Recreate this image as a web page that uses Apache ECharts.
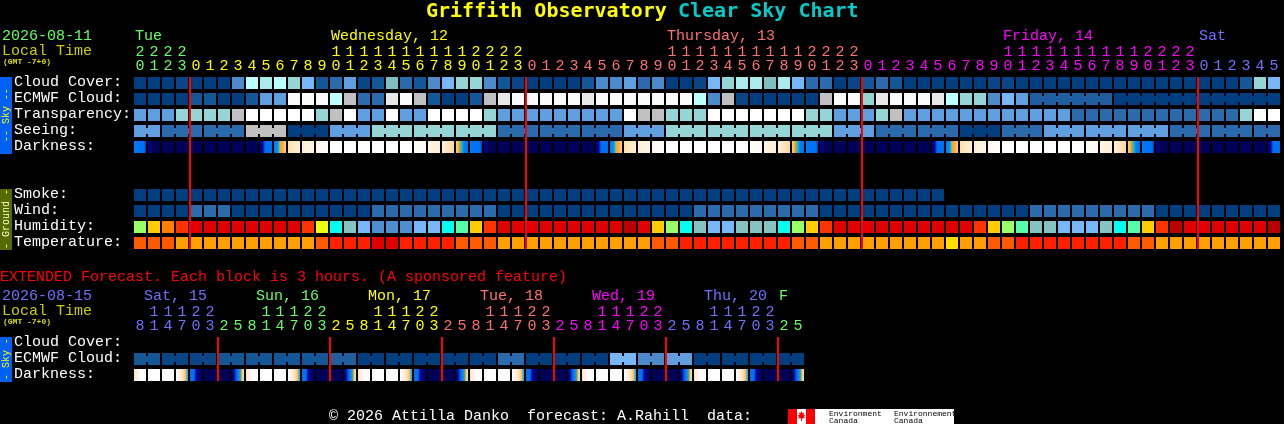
<!DOCTYPE html>
<html>
<head>
<meta charset="utf-8">
<style>html,body{margin:0;padding:0;background:#000;overflow:hidden}#c{width:1284px;height:424px}</style>
<script src="https://cdn.jsdelivr.net/npm/echarts@6/dist/echarts.min.js"></script>
</head>
<body>
<div id="c"></div>
<script>
// ---------- data ----------
const mainRows = ['Cloud Cover:','ECMWF Cloud:','Transparency:','Seeing:','Darkness:','','','Smoke:','Wind:','Humidity:','Temperature:'];
const extRows = ['Cloud Cover:','ECMWF Cloud:','Darkness:'];

const mainHours = [20,21,22,23,
 0,1,2,3,4,5,6,7,8,9,10,11,12,13,14,15,16,17,18,19,20,21,22,23,
 0,1,2,3,4,5,6,7,8,9,10,11,12,13,14,15,16,17,18,19,20,21,22,23,
 0,1,2,3,4,5,6,7,8,9,10,11,12,13,14,15,16,17,18,19,20,21,22,23,
 0,1,2,3,4,5];
const extHours = [8,11,14,17,20,23,2,5,8,11,14,17,20,23,2,5,8,11,14,17,20,23,2,5,
 8,11,14,17,20,23,2,5,8,11,14,17,20,23,2,5,8,11,14,17,20,23,2,5];

const mainDayNames = ['Tue','Wednesday, 12','Thursday, 13','Friday, 14','Sat'];
const mainDayNameCols = [0,14,38,62,76];
const mainDayStartCols = [0,4,28,52,76];
const extDayNames = [' Sat, 15',' Sun, 16',' Mon, 17',' Tue, 18',' Wed, 19',' Thu, 20','F'];
const extDayNameCols = [0,8,16,24,32,40,46];
const extDayStartCols = [0,6,14,22,30,38,46];

const midnightCols = [4,28,52,76];
const extMidnightCols = [6,14,22,30,38,46];

const cloudCover = [0,0,0,13,0,0,0,3,9,8,9,7,5,1,2,4,13,1,6,2,1,
 3,5,7,7,3,1,13,0,0,0,0,1,3,3,4,2,3,0,0,13,5,7,8,8,6,8,5,2,2,0,13,
 1,2,1,0,0,0,0,0,0,13,13,0,0,0,0,0,0,0,0,0,0,0,0,0,0,0,0,1,7,5];
const ecmwfCloud = [0,0,0,0,1,1,0,0,1,4,4,10,10,10,9,12,2,2,11,10,12,
 1,0,0,1,12,11,10,10,10,10,10,11,10,10,10,10,10,10,10,9,3,12,13,0,0,0,0,0,12,10,10,
 7,11,10,10,10,11,9,7,7,3,5,4,14,14,14,14,14,14,0,0,0,0,0,0,0,0,0,0,0,0];
const ecmwfRuns = [[64,69],[70,81]];
const transparency = [2,2,2,3,3,3,3,4,5,5,5,5,5,3,4,5,2,2,5,2,2,
 5,5,5,5,3,2,2,2,2,2,2,2,2,2,5,4,4,3,3,3,5,5,5,5,5,5,5,3,3,2,2,
 2,3,4,2,2,2,2,2,2,2,2,2,2,2,2,1,1,1,1,1,1,1,1,1,1,1,1,3,5,5];
const seeing = [2,2,1,1,1,1,1,1,4,4,4,0,0,0,2,2,2,3,3,3,3,3,3,3,3,3,1,1,1,1,1,1,1,1,1,2,2,2,3,3,3,3,3,3,3,3,3,3,3,3,2,2,2,1,1,1,1,1,1,0,0,0,1,1,1,2,2,2,2,2,2,2,2,2,1,1,1,1,1,1,1,1];
const seeingGroupSizes = [2,3,3,3,3,3,3,3,3,3,3,3,3,3,3,3,3,3,3,3,3,3,3,3,3,3,3,2];
const darkness = ['b','m','n','n','n','n','n','n','n','p','q','s1','s2','s3','w','w','w','w','w','w','e3','e2','e1','r',
 'b','m','n','n','n','n','n','n','n','p','q','s1','s2','s3','w','w','w','w','w','w','e3','e2','e1','r',
 'b','m','n','n','n','n','n','n','n','p','q','s1','s2','s3','w','w','w','w','w','w','e3','e2','e1','r',
 'b','m','n','n','n','n','n','n','n','p'];
const smoke = [0,0,0,0,0,0,0,0,0,0,0,0,0,0,0,0,0,0,0,0,0,0,0,0,0,0,0,0,0,0,0,0,0,0,0,0,0,0,0,0,0,0,0,0,0,0,0,0,0,0,0,0,0,0,0,0,0,0];
const wind = [0,0,0,0,1,1,1,0,0,0,0,0,0,0,0,0,0,1,1,1,1,1,1,1,1,1,0,0,0,0,0,0,0,0,0,0,0,0,0,0,1,1,1,1,1,1,1,1,1,0,0,0,0,0,0,0,0,0,0,0,0,0,0,0,1,1,1,1,1,1,1,1,1,0,0,0,0,0,0,0,0,0];
const humidity = [0,1,2,3,4,4,4,4,4,4,4,4,3,6,7,8,9,10,10,10,9,
 9,7,11,1,3,4,4,4,4,4,4,4,4,4,5,4,1,0,7,8,9,9,8,8,8,7,0,1,3,4,4,
 4,4,4,4,4,4,4,4,3,1,0,11,8,8,9,9,9,8,7,11,1,3,5,4,4,4,4,4,4,5];
const temperature = [0,0,0,1,1,1,1,1,1,1,1,1,1,0,2,2,2,3,3,2,2,
 2,2,0,0,0,1,1,1,1,1,1,1,1,1,1,1,0,0,2,2,2,2,2,2,2,2,0,0,1,1,1,
 1,1,1,1,1,1,4,1,1,0,0,2,2,2,2,2,2,2,2,0,0,1,1,1,1,1,1,1,1,1];

const extEcmwf = [1,1,13,13,13,13,1,1,1,1,1,1,1,1,14,14,0,0,0,0,0,0,0,0,0,0,2,2,0,0,0,0,0,0,5,5,3,3,4,4,0,0,0,0,0,0,0,0];
const extDarkness = ['h','w','w','k','l','n','n','o','h','w','w','k','l','n','n','o','h','w','w','k','l','n','n','o',
 'h','w','w','k','l','n','n','o','h','w','w','k','l','n','n','o','h','w','w','k','l','n','n','o'];

// ---------- styles ----------
const BLUE0 = '#003F7F';
const cloudColors = [BLUE0,'#135797','#2B6BAB','#4B8BCB','#5F9FDF','#77B7F7','#7FBFBF','#95D5D5','#ABEBEB','#BBFFFF','#FBFBFB','#E8E8E8','#C0C0C0','#0A4686','#1F5F9F'];
const transColors = [BLUE0,'#2B6BAB','#5F9FDF','#95D5D5','#C0C0C0','#FFFFFF'];
const windColors = [BLUE0,'#2B6BAB'];
const humidColors = ['#99FF66','#FFCC00','#FF8000','#FF3300','#E00000','#BB0000','#EEFF11','#00FFEE','#85C2C2','#77B7F7','#4F8FCF','#55FFAA'];
const tempColors = ['#FF5A00','#FFA000','#FF2000','#E00000','#FFDD00'];
const mainDayColors = ['#66FF66','#FFFF00','#FF7070','#FF00FF','#7070FF'];
const extDayColors = ['#7070FF','#66FF66','#FFFF00','#FF7070','#FF00FF','#7070FF','#66FF66'];
const darkStops = {
 n:[[0,'#000058'],[1,'#000058']],
 w:[[0,'#FFFFFF'],[1,'#FFFFFF']],
 b:[[0,'#0078F8'],[.8,'#0070F0'],[1,'#0040C0']],
 m:[[0,'#0000A0'],[.18,'#000078'],[.4,'#000058'],[1,'#000058']],
 p:[[0,'#000070'],[.2,'#0000A0'],[.34,'#0040D0'],[.42,'#0070F0'],[1,'#0070F0']],
 q:[[0,'#0078F0'],[.3,'#0090F0'],[.4,'#00C0F0'],[.5,'#FFA020'],[.75,'#FFB040'],[1,'#FFD090']],
 s1:[[0,'#FFDFB0'],[1,'#FFEFD8']],
 s2:[[0,'#FFEFD5'],[1,'#FFF6E8']],
 s3:[[0,'#FFF8F0'],[1,'#FFFDFA']],
 e3:[[0,'#FFFDFA'],[1,'#FFF8F0']],
 e2:[[0,'#FFF6E8'],[1,'#FFEFD5']],
 e1:[[0,'#FFEFD8'],[1,'#FFD9A8']],
 r:[[0,'#FFD090'],[.25,'#FFA020'],[.4,'#60B080'],[.5,'#00C0F0'],[.65,'#0080F0'],[1,'#0070F0']],
 h:[[0,'#FFE4C4'],[.55,'#FFFFFF'],[1,'#FFFFFF']],
 k:[[0,'#FFFFFF'],[.5,'#FFE8C8'],[.78,'#FFC070'],[.86,'#FFA030'],[.9,'#00C8F0'],[1,'#00C0F0']],
 l:[[0,'#0070F0'],[.35,'#0070F0'],[.5,'#0000A0'],[1,'#000058']],
 o:[[0,'#000060'],[.15,'#0000A0'],[.4,'#0070F0'],[.6,'#0090F0'],[.72,'#50A080'],[.85,'#FFC070'],[1,'#FFE0B0']]
};
const FONT = '"Liberation Mono","DejaVu Sans Mono",monospace';
const CELL = 12, PITCH = 14, JOIN = 6, RED = '#FF0000';

// ---------- helpers ----------
function fillOf(code){
  const s = darkStops[code];
  return new echarts.graphic.LinearGradient(0,0,1,0,s.map(p=>({offset:p[0],color:p[1]})));
}
function colorAt(cols, colors, i){ let d=0; cols.forEach((c,k)=>{ if(i>=c) d=k; }); return colors[d]; }
function runsFromSizes(sizes){ const r=[]; let c=0; sizes.forEach(s=>{ r.push([c,c+s-1]); c+=s; }); return r; }
function addRow(out,row,values,colorFn,runs){
  values.forEach((v,col)=>{
    let join=false;
    if(runs) join = runs.some(r=>col>=r[0] && col<r[1]);
    out.push({value:[col,row],fill:colorFn(v),join});
  });
}
const mainCells=[];
addRow(mainCells,0,cloudCover,v=>cloudColors[v]);
addRow(mainCells,1,ecmwfCloud,v=>cloudColors[v],ecmwfRuns);
addRow(mainCells,2,transparency,v=>transColors[v]);
addRow(mainCells,3,seeing,v=>transColors[v],runsFromSizes(seeingGroupSizes));
addRow(mainCells,4,darkness,fillOf);
addRow(mainCells,7,smoke,v=>windColors[v]);
addRow(mainCells,8,wind,v=>windColors[v]);
addRow(mainCells,9,humidity,v=>humidColors[v]);
addRow(mainCells,10,temperature,v=>tempColors[v]);
const extCells=[];
addRow(extCells,1,extEcmwf,v=>cloudColors[v],extHours.map((h,i)=>[i,i+1]).filter(r=>r[0]%2===0));
addRow(extCells,2,extDarkness,fillOf);

function cellSeries(x,y,cells){
  return {type:'custom',xAxisIndex:x,yAxisIndex:y,coordinateSystem:'cartesian2d',clip:false,silent:true,
    data:cells,encode:{x:0,y:1},
    renderItem(params,api){
      const c=cells[params.dataIndex];
      const p=api.coord([api.value(0),api.value(1)]);
      const kids=[{type:'rect',shape:{x:p[0]-CELL/2,y:p[1]-CELL/2,width:CELL,height:CELL},style:{fill:c.fill}}];
      if(c.join) kids.push({type:'rect',shape:{x:p[0]+CELL/2,y:p[1]-JOIN/2,width:PITCH-CELL,height:JOIN},style:{fill:c.fill}});
      return {type:'group',children:kids};
    }};
}
function redLines(x,y,cols,topRow,botRow){
  return {type:'custom',xAxisIndex:x,yAxisIndex:y,coordinateSystem:'cartesian2d',clip:false,silent:true,z:5,
    data:cols.map(c=>[c,topRow]),encode:{x:0,y:1},
    renderItem(params,api){
      const p=api.coord([api.value(0),topRow]);
      const b=api.coord([api.value(0),botRow]);
      return {type:'rect',shape:{x:p[0]-PITCH/2,y:p[1]-CELL/2,width:2,height:b[1]-p[1]+CELL},style:{fill:RED}};
    }};
}
function hourAxis(grid,hours,dayCols,dayColors,tens){
  return {type:'category',gridIndex:grid,position:'top',offset:tens?14:0,boundaryGap:true,
    data:hours.map((h,i)=>String(i)),
    axisLine:{show:false},axisTick:{show:false},splitLine:{show:false},
    axisLabel:{show:true,interval:0,margin:1,fontFamily:FONT,fontSize:15,hideOverlap:false,
      formatter:(v,i)=>{ const h=hours[i]; if(tens) return h>=10?String(Math.floor(h/10)):''; return String(h%10); },
      color:(v,i)=>colorAt(dayCols,dayColors,i===undefined?+v:i)}};
}
function rowAxis(grid,rows){
  return {type:'category',gridIndex:grid,inverse:true,data:rows,
    axisLine:{show:false},axisTick:{show:false},splitLine:{show:false},
    axisLabel:{show:true,interval:0,margin:119,align:'left',verticalAlign:'bottom',lineHeight:2,color:'#FFFFFF',fontFamily:FONT,fontSize:15}};
}
function txt(x,y,text,fill,size,extra){
  return Object.assign({type:'text',silent:true,x,y,style:{text,fill,fontFamily:FONT,fontSize:size,textAlign:'left',verticalAlign:'middle'}},extra||{});
}
function bandText(x,y,text,fill){
  return {type:'text',silent:true,x,y,rotation:Math.PI/2,style:{text,fill,fontFamily:FONT,fontSize:10,textAlign:'center',verticalAlign:'middle'}};
}
function rect(x,y,w,h,fill){ return {type:'rect',silent:true,z:0,shape:{x,y,width:w,height:h},style:{fill}}; }
function gmt(y){ return {type:'text',silent:true,x:3,y,style:{text:'(GMT -7+0)',fill:'#DDDD00',fontFamily:FONT,fontWeight:'bold',fontSize:8,textAlign:'left',verticalAlign:'middle'}}; }

const graphics=[
  {type:'text',silent:true,x:426,y:12,style:{text:'Griffith Observatory ',fill:'#FFFF00',fontFamily:'"DejaVu Sans Mono",monospace',fontWeight:'bold',fontSize:20,textAlign:'left',verticalAlign:'middle'}},
  {type:'text',silent:true,x:678,y:12,style:{text:'Clear Sky Chart',fill:'#00CCCC',fontFamily:'"DejaVu Sans Mono",monospace',fontWeight:'bold',fontSize:20,textAlign:'left',verticalAlign:'middle'}},
  txt(2,36,'2026-08-11','#66FF66',15),
  txt(2,51,'Local Time','#CCCC00',15),
  gmt(62),
  txt(0,277,'EXTENDED Forecast. Each block is 3 hours. (A sponsored feature)','#FF0000',15),
  txt(2,296,'2026-08-15','#7070FF',15),
  txt(2,311,'Local Time','#CCCC00',15),
  gmt(322),
  txt(329,416,'\u00A9 2026 Attilla Danko  forecast: A.Rahill  data:','#FFFFFF',15),
  rect(0,77,12,77,'#0060F0'), bandText(6,115,'-- Sky --','#FFFF00'),
  rect(0,189,12,61,'#556B00'), bandText(6,219,'- Ground -','#FFFFD0'),
  rect(0,337,12,45,'#0060F0'), bandText(6,359,'- Sky -','#FFFF00'),
  rect(788,409,166,15,'#FFFFFF'), rect(788,409,9,15,'#FF0000'), rect(806,409,9,15,'#FF0000'),
  {type:'polygon',silent:true,shape:{points:[[801.5,411],[802.5,413],[804,412.5],[803.5,415],[805,415],[804,417],[805,418],[802,418.5],[802,421],[801,421],[801,418.5],[798,418],[799,417],[798,415],[799.5,415],[799,412.5],[800.5,413]]},style:{fill:'#FF0000'}},
  {type:'text',silent:true,x:829,y:413.5,style:{text:'Environment',fill:'#000',fontFamily:FONT,fontSize:8,textAlign:'left',verticalAlign:'middle'}},
  {type:'text',silent:true,x:829,y:420.5,style:{text:'Canada',fill:'#000',fontFamily:FONT,fontSize:8,textAlign:'left',verticalAlign:'middle'}},
  {type:'text',silent:true,x:894,y:413.5,style:{text:'Environnement',fill:'#000',fontFamily:FONT,fontSize:8,textAlign:'left',verticalAlign:'middle'}},
  {type:'text',silent:true,x:894,y:420.5,style:{text:'Canada',fill:'#000',fontFamily:FONT,fontSize:8,textAlign:'left',verticalAlign:'middle'}}
];
mainDayNames.forEach((t,i)=>graphics.push(txt(135+PITCH*mainDayNameCols[i],36,t,mainDayColors[i],15)));
extDayNames.forEach((t,i)=>graphics.push(txt(135+PITCH*extDayNameCols[i],296,t,extDayColors[i],15)));

const chart=echarts.init(document.getElementById('c'),null,{renderer:'canvas',width:1284,height:424,devicePixelRatio:1});
chart.setOption({
  animation:false,
  backgroundColor:'#000000',
  grid:[
    {left:133,top:75,width:PITCH*mainHours.length,height:16*mainRows.length},
    {left:133,top:335,width:PITCH*extHours.length,height:16*extRows.length}
  ],
  xAxis:[
    hourAxis(0,mainHours,mainDayStartCols,mainDayColors,false),
    hourAxis(0,mainHours,mainDayStartCols,mainDayColors,true),
    hourAxis(1,extHours,extDayStartCols,extDayColors,false),
    hourAxis(1,extHours,extDayStartCols,extDayColors,true)
  ],
  yAxis:[rowAxis(0,mainRows),rowAxis(1,extRows)],
  series:[
    cellSeries(0,0,mainCells),
    cellSeries(2,1,extCells),
    redLines(0,0,midnightCols,0,10),
    redLines(2,1,extMidnightCols,0,2)
  ],
  graphic:{elements:graphics}
});
</script>
</body>
</html>
